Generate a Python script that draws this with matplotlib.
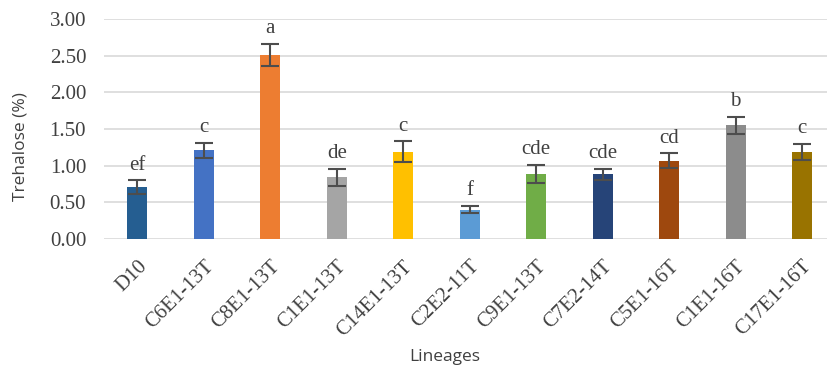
import numpy as np
import matplotlib.pyplot as plt
from matplotlib.transforms import ScaledTranslation

lineages = ["D10", "C6E1-13T", "C8E1-13T", "C1E1-13T", "C14E1-13T", "C2E2-11T",
            "C9E1-13T", "C7E2-14T", "C5E1-16T", "C1E1-16T", "C17E1-16T"]
trehalose = [0.71, 1.21, 2.51, 0.84, 1.19, 0.40, 0.89, 0.88, 1.07, 1.55, 1.19]
errors = [0.09, 0.10, 0.15, 0.12, 0.14, 0.05, 0.12, 0.08, 0.10, 0.12, 0.11]
groups = ["ef", "c", "a", "de", "c", "f", "cde", "cde", "cd", "b", "c"]
colors = ["#255E91", "#4472C4", "#ED7D31", "#A5A5A5", "#FFC000", "#5B9BD5",
          "#70AD47", "#264478", "#9E480E", "#8C8C8C", "#997300"]

fig = plt.figure(figsize=(8.27, 3.74), dpi=100)
ax = fig.add_axes([0.126, 0.361, 0.884, 0.588])

x = np.arange(len(lineages))
ax.bar(x, trehalose, width=0.3, color=colors, zorder=3)
ax.errorbar(x, trehalose, yerr=errors, fmt="none", ecolor="#4D4D4D",
            elinewidth=1.5, capsize=6.5, capthick=1.5, zorder=4)

# significance letters above each error bar
for xi, v, e, g in zip(x, trehalose, errors, groups):
    ax.annotate(g, (xi, v + e), xytext=(0, 4), textcoords="offset points",
                ha="center", va="bottom", fontsize=15,
                family="Liberation Serif", color="#404040")

ax.set_xlim(-0.5, len(lineages) - 0.5)
ax.set_ylim(0, 3)
ax.set_yticks(np.arange(0, 3.01, 0.5))
ax.set_yticklabels([f"{t:.2f}" for t in np.arange(0, 3.01, 0.5)],
                   family="Liberation Serif", fontsize=15, color="#404040")
ax.set_xticks(x)
ax.set_xticklabels(lineages, rotation=45, ha="right", rotation_mode="anchor",
                   family="Liberation Serif", fontsize=15, color="#404040")
shift = ScaledTranslation(-3 / 100, 0, fig.dpi_scale_trans)
for lab in ax.get_xticklabels():
    lab.set_transform(lab.get_transform() + shift)
ax.tick_params(axis="x", length=0, pad=13)
ax.tick_params(axis="y", length=0, pad=13)
ax.yaxis.grid(True, color="#D9D9D9", linewidth=1.2, zorder=0)
for s in ax.spines.values():
    s.set_visible(False)

fig.text(0.025, 0.607, "Trehalose (%)", rotation=90, ha="center", va="center",
         family="Open Sans", fontsize=12.5, color="#404040")
fig.text(0.538, 0.045, "Lineages", ha="center", va="center", family="Open Sans",
         fontsize=12.5, color="#404040")

fig.savefig("out.png", dpi=100)
